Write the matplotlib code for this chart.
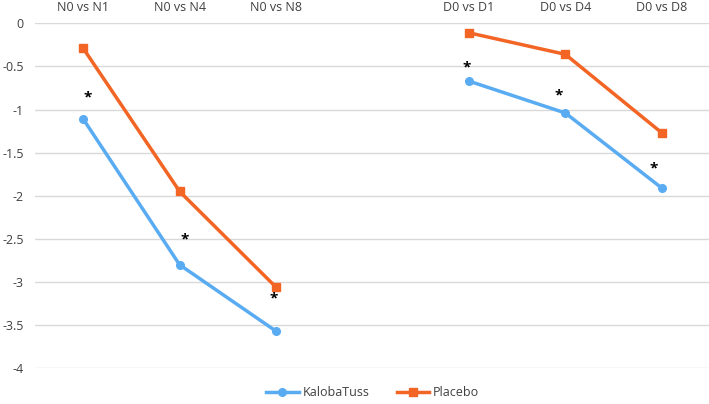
import matplotlib
matplotlib.use("Agg")
import matplotlib.pyplot as plt
import numpy as np

categories = ["N0 vs N1", "N0 vs N4", "N0 vs N8", "", "D0 vs D1", "D0 vs D4", "D0 vs D8"]
kaloba = [-1.11, -2.80, -3.57, np.nan, -0.67, -1.04, -1.91]
placebo = [-0.29, -1.95, -3.06, np.nan, -0.11, -0.36, -1.27]
star_y = [-0.86, -2.51, -3.19, np.nan, -0.51, -0.84, -1.68]
star_dx = [0.05, 0.05, -0.02, 0, -0.02, -0.07, -0.08]
yticks = [0, -0.5, -1, -1.5, -2, -2.5, -3, -3.5, -4]
ytick_labels = ["0", "-0.5", "-1", "-1.5", "-2", "-2.5", "-3", "-3.5", "-4"]

plt.rcParams['font.family'] = ['Open Sans', 'DejaVu Sans']

fig = plt.figure(figsize=(7.09, 4.04), dpi=100)
ax = fig.add_axes([35/709, 1 - 368.3/404, (710 - 35)/709, (368.3 - 23.3)/404])

x = np.arange(len(categories))
blue = "#5AACF2"
orange = "#F26524"
ax.plot(x, kaloba, color=blue, lw=2.5, marker="o", ms=5.5, label="KalobaTuss", zorder=3)
ax.plot(x, placebo, color=orange, lw=2.5, marker="s", ms=6, label="Placebo", zorder=3)

for xi, sy, dx in zip(x, star_y, star_dx):
    if not np.isnan(sy):
        ax.text(xi + dx, sy, "*", ha="center", va="center", fontsize=11, fontweight="bold",
                color="black", zorder=4)

ax.set_xlim(-0.5, len(categories) - 0.5)
ax.set_ylim(-4, 0)
ax.set_yticks(yticks)
ax.set_yticklabels(ytick_labels)
ax.set_xticks(x)
ax.set_xticklabels(categories)
ax.xaxis.tick_top()
ax.tick_params(axis="both", length=0, labelsize=9, colors="#404040")
ax.tick_params(axis="x", pad=7)
ax.tick_params(axis="y", pad=8)
ax.yaxis.grid(True, color="#D9D9D9", lw=1)
ax.set_axisbelow(True)
for s in ax.spines.values():
    s.set_visible(False)

ax.legend(loc="upper center", bbox_to_anchor=(0.5, -0.02), ncol=2, frameon=False,
          fontsize=9, handlelength=2.6, handletextpad=0.3, columnspacing=2.2,
          labelcolor="#404040")

fig.savefig("out.png", dpi=100)
